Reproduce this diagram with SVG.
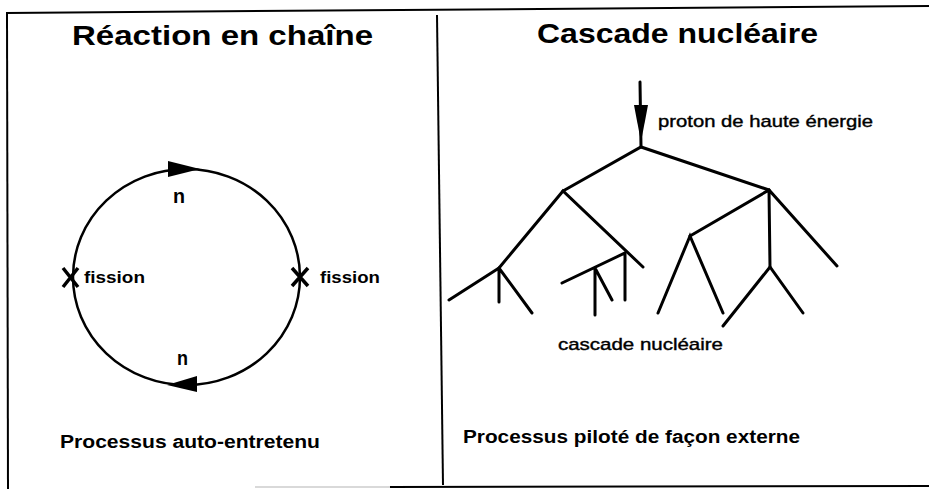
<svg xmlns="http://www.w3.org/2000/svg" width="929" height="489" viewBox="0 0 929 489">
<style>
.t{font-family:"Liberation Sans",Arial,sans-serif;fill:#000}
.title{font-size:28px;font-weight:bold}
.lbl{font-size:17px;font-weight:bold}
.sm{font-size:17px;stroke:#000;stroke-width:0.4}
.br{stroke:#000;stroke-width:3;stroke-linecap:round;fill:none}
.fr{stroke:#000;stroke-width:2;fill:none}
.x{stroke:#000;stroke-width:3.5;fill:none}
</style>
<rect x="0" y="0" width="929" height="489" fill="#fff"/>
<g id="frame">
<line class="fr" x1="6" y1="13" x2="929" y2="6"/>
<line class="fr" x1="7" y1="13" x2="8" y2="489"/>
<line class="fr" x1="437" y1="15" x2="443" y2="485"/>
<line x1="255" y1="487" x2="390" y2="487" stroke="#ccc" stroke-width="1.5"/>
<line class="fr" x1="390" y1="487" x2="929" y2="486" stroke-width="2.5"/>
</g>
<g id="left-panel">
<text class="t title" x="72" y="45" textLength="301" lengthAdjust="spacingAndGlyphs">Réaction en chaîne</text>
<g id="cycle">
<ellipse cx="186.5" cy="277" rx="113.5" ry="108" fill="none" stroke="#000" stroke-width="2.5"/>
<polygon points="168,161 200,169 168,177" fill="#000"/>
<polygon points="197,376 167,385 197,392" fill="#000"/>
<text class="t" x="173" y="203" font-size="21" font-weight="bold" textLength="12" lengthAdjust="spacingAndGlyphs">n</text>
<text class="t" x="177" y="365" font-size="21" font-weight="bold" textLength="11" lengthAdjust="spacingAndGlyphs">n</text>
</g>
<g id="fission-left">
<path class="x" d="M63,268 L78,287 M78,268 L63,287"/>
<text class="t lbl" x="84" y="283" textLength="61" lengthAdjust="spacingAndGlyphs">fission</text>
</g>
<g id="fission-right">
<path class="x" d="M292,268 L308,286 M308,268 L292,286"/>
<text class="t lbl" x="320" y="283" textLength="60" lengthAdjust="spacingAndGlyphs">fission</text>
</g>
<text id="caption-left" class="t" x="60" y="448" font-size="18" font-weight="bold" textLength="260" lengthAdjust="spacingAndGlyphs">Processus auto-entretenu</text>
</g>
<g id="right-panel">
<text class="t title" x="537" y="43" textLength="281" lengthAdjust="spacingAndGlyphs">Cascade nucléaire</text>
<g id="proton">
<line class="br" x1="640" y1="82" x2="641" y2="147"/>
<polygon points="634,105 648,105 641,142" fill="#000"/>
<text class="t sm" x="658" y="127" textLength="215" lengthAdjust="spacingAndGlyphs">proton de haute énergie</text>
</g>
<g id="connectors">
<path class="br" d="M563,191 L641,147 L769,190"/>
<path class="br" d="M499,268 L563,191 L643,267"/>
<path class="br" d="M449,300 L499,268 L532,313 M499,268 L499,302"/>
<path class="br" d="M562,283 L625,253 L625,300 M595,268 L595,315 M595,268 L612,300"/>
<path class="br" d="M690,236 L769,190 L837,266 M769,190 L770,267"/>
<path class="br" d="M658,313 L690,236 L723,313"/>
<path class="br" d="M723,326 L770,267 L803,313"/>
</g>
<text id="cascade-label" class="t sm" x="558" y="350" textLength="165" lengthAdjust="spacingAndGlyphs">cascade nucléaire</text>
<text id="caption-right" class="t" x="463" y="443" font-size="18" font-weight="bold" textLength="337" lengthAdjust="spacingAndGlyphs">Processus piloté de façon externe</text>
</g>
</svg>
